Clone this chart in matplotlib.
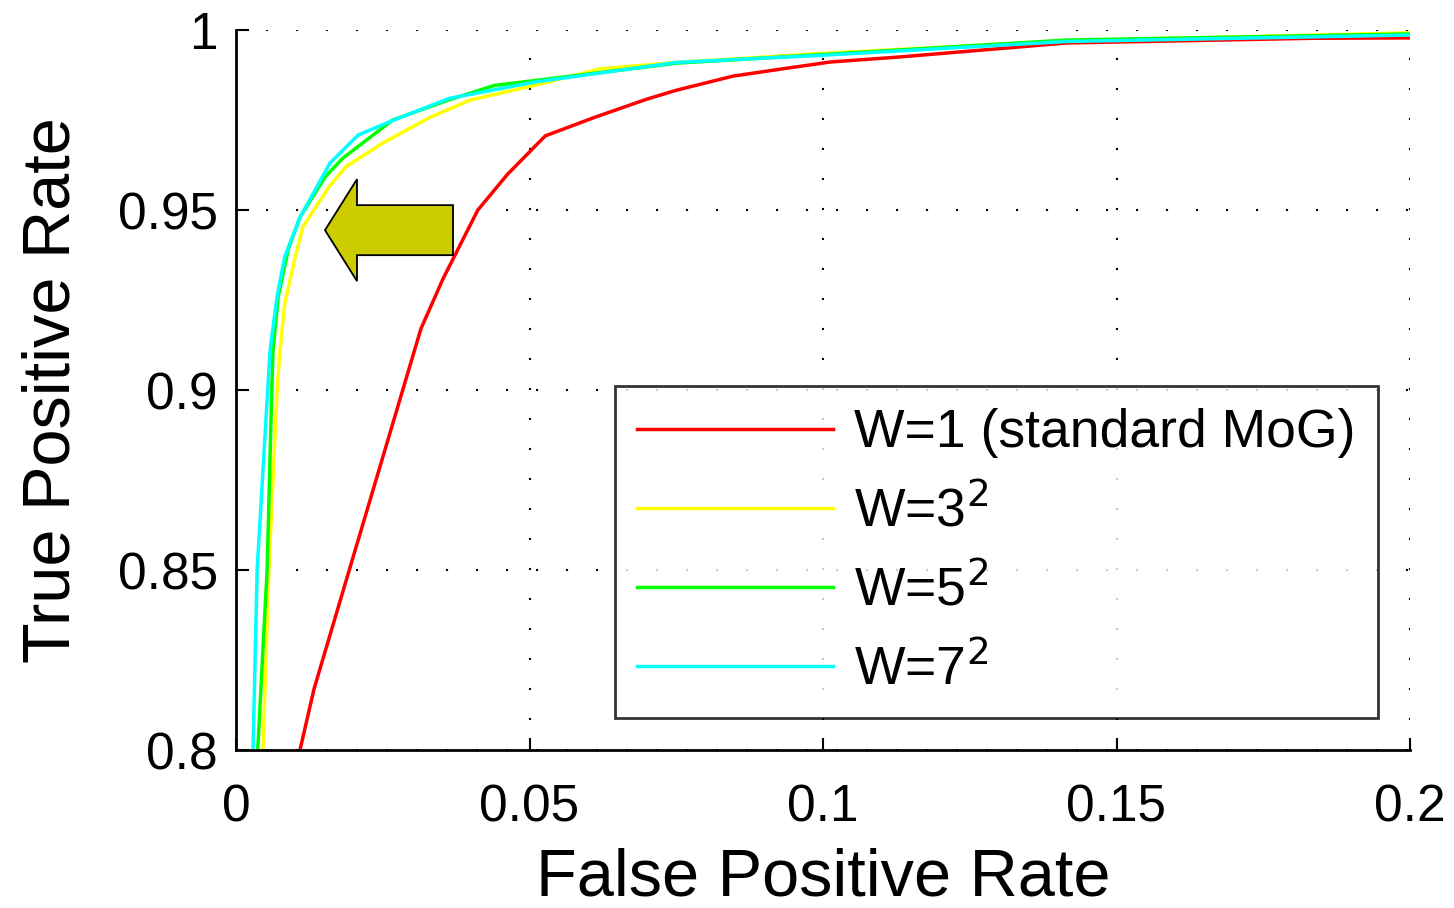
import matplotlib
matplotlib.use("Agg")
import matplotlib.pyplot as plt
from matplotlib.patches import FancyArrow

plt.rcParams["font.family"] = ["Liberation Sans", "DejaVu Sans"]

# du lieu doc tu hinh (FPR, TPR)
fpr_w1 = [0.0109, 0.0133, 0.0193, 0.0315, 0.0353, 0.0412, 0.0463, 0.0527,
          0.0612, 0.0700, 0.0751, 0.0847, 0.0939, 0.1012, 0.1130, 0.1415,
          0.1835, 0.2000]
tpr_w1 = [0.800, 0.817, 0.850, 0.917, 0.931, 0.950, 0.960, 0.9706,
          0.9758, 0.9808, 0.9833, 0.9872, 0.9894, 0.9911, 0.9925, 0.9964,
          0.9977, 0.9978]

fpr_w3 = [0.0046, 0.0056, 0.0070, 0.0075, 0.0083, 0.0101, 0.0114, 0.0157,
          0.0187, 0.0250, 0.0329, 0.0400, 0.0511, 0.0620, 0.0751, 0.1000,
          0.1415, 0.2000]
tpr_w3 = [0.800, 0.850, 0.900, 0.911, 0.924, 0.937, 0.9453, 0.9561,
          0.962, 0.9686, 0.9756, 0.9806, 0.9847, 0.9892, 0.9910, 0.9935,
          0.9970, 0.9992]

fpr_w5 = [0.0037, 0.0053, 0.0061, 0.0063, 0.0072, 0.0089, 0.0109, 0.0152,
          0.0182, 0.0267, 0.0363, 0.0440, 0.0511, 0.0751, 0.1000, 0.1415,
          0.2000]
tpr_w5 = [0.800, 0.850, 0.900, 0.911, 0.926, 0.939, 0.948, 0.9592,
          0.9644, 0.975, 0.9806, 0.9846, 0.986, 0.9908, 0.9932, 0.9972,
          0.9989]

fpr_w7 = [0.0029, 0.0036, 0.0054, 0.0058, 0.0070, 0.0083, 0.0109, 0.0160,
          0.0208, 0.0260, 0.0363, 0.0511, 0.0751, 0.1000, 0.1415, 0.2000]
tpr_w7 = [0.800, 0.850, 0.900, 0.911, 0.926, 0.937, 0.948, 0.963,
          0.9708, 0.9744, 0.981, 0.9856, 0.9910, 0.9930, 0.9968, 0.9986]

labels = ["W=1 (standard MoG)", "W=3$^2$", "W=5$^2$", "W=7$^2$"]
colors = ["#ff0000", "#ffff00", "#00ff00", "#00ffff"]

fig = plt.figure(figsize=(14.54, 9.08), dpi=100)
ax = fig.add_axes([236/1454, 1 - 750/908, (1410 - 236)/1454, (750 - 30)/908])

for x, y, lab, c in zip([fpr_w1, fpr_w3, fpr_w5, fpr_w7],
                        [tpr_w1, tpr_w3, tpr_w5, tpr_w7], labels, colors):
    ax.plot(x, y, color=c, lw=2.5, label=lab)

# mui ten chi sang trai
ax.add_patch(FancyArrow(0.03697, 0.9444, -0.02181, 0, width=0.01389,
                        head_width=0.0283, head_length=0.00545,
                        length_includes_head=True, fc="#cccc00", ec="black",
                        lw=1.3, zorder=5))

ax.set_xlim(0, 0.2)
ax.set_ylim(0.8, 1.0)
ax.set_xticks([0, 0.05, 0.1, 0.15, 0.2])
ax.set_xticklabels(["0", "0.05", "0.1", "0.15", "0.2"])
ax.set_yticks([0.8, 0.85, 0.9, 0.95, 1.0])
ax.set_yticklabels(["0.8", "0.85", "0.9", "0.95", "1"])
ax.tick_params(direction="in", length=9, width=1.5, labelsize=37)
ax.tick_params(axis="x", pad=24)
ax.tick_params(axis="y", pad=13)
ax.spines["top"].set_visible(False)
ax.spines["right"].set_visible(False)
ax.spines["left"].set_linewidth(2)
ax.spines["bottom"].set_linewidth(2)
ax.grid(True, color="black", lw=1.5, linestyle=(0, (1, 13.4)))

ax.set_xlabel("False Positive Rate", fontsize=48, labelpad=11)
ax.set_ylabel("True Positive Rate", fontsize=48, labelpad=25)

leg = ax.legend(loc="lower right", fontsize=38.5, frameon=True, fancybox=False,
                edgecolor="black", handlelength=3.65, borderpad=0.42,
                labelspacing=0.5, handletextpad=0.4, borderaxespad=0,
                bbox_to_anchor=(1 - 32/1174, 32/720))
leg.get_frame().set_linewidth(2)
for l in leg.get_lines():
    l.set_linewidth(2.5)

fig.savefig("out.png", dpi=100)
